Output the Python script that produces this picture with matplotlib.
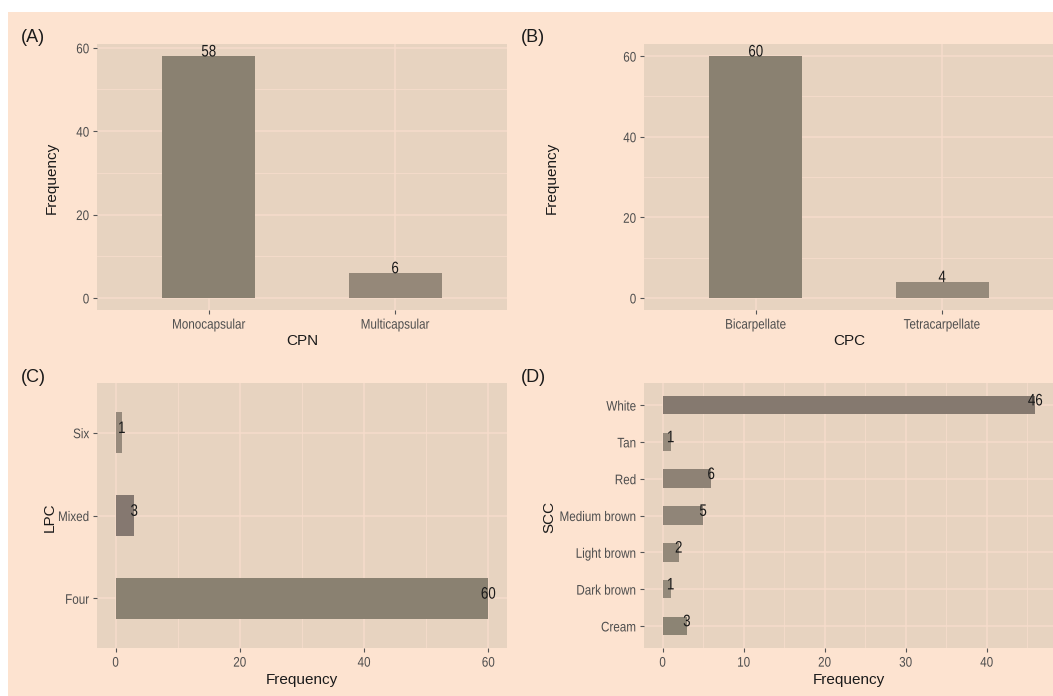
import numpy as np
import matplotlib
matplotlib.use('Agg')
from matplotlib import pyplot as plt
from matplotlib.patches import Rectangle
from matplotlib.patheffects import AbstractPathEffect
from matplotlib.transforms import Affine2D

'''Data read off the reference'''
cpn_cats = ['Monocapsular', 'Multicapsular']
cpn_vals = [58, 6]
cpn_cols = ['#8a8171', '#958879']

cpc_cats = ['Bicarpellate', 'Tetracarpellate']
cpc_vals = [60, 4]
cpc_cols = ['#8a8171', '#968a7b']

lpc_cats = ['Four', 'Mixed', 'Six']
lpc_vals = [60, 3, 1]
lpc_cols = ['#8a8171', '#857870', '#978a7c']

scc_cats = ['Cream', 'Dark brown', 'Light brown', 'Medium brown', 'Red', 'Tan', 'White']
scc_vals = [3, 1, 2, 5, 6, 1, 46]
scc_cols = ['#8c8474', '#948a7b', '#938879', '#908578', '#8e8275', '#968a7c', '#85796f']

W, H = 1053, 696
FIG_BG = '#fde3d0'
PANEL_BG = '#e7d3c0'
GRID = '#f6dccb'
TICK_C = '#555555'
FONT = ['Liberation Sans', 'DejaVu Sans']


class Squeeze(AbstractPathEffect):
    '''narrow the glyphs horizontally (the original uses a condensed face)'''

    def __init__(self, sx=0.84, anchor='center'):
        super().__init__()
        self.sx = sx
        self.anchor = anchor

    def draw_path(self, renderer, gc, tpath, affine, rgbFace=None):
        xs = tpath.vertices[:, 0]
        if len(xs) == 0:
            return
        if self.anchor == 'right':
            x0 = xs.max()
        elif self.anchor == 'left':
            x0 = xs.min()
        else:
            x0 = 0.5 * (xs.min() + xs.max())
        t = Affine2D().translate(-x0, 0).scale(self.sx, 1).translate(x0, 0) + affine
        renderer.draw_path(gc, tpath, t, rgbFace)


plt.rcParams['font.family'] = FONT

fig = plt.figure(figsize=(W / 100, H / 100), dpi=100)
fig.patch.set_facecolor('white')
fig.patches.append(Rectangle((8 / W, 0), 1, 1 - 12 / H, transform=fig.transFigure,
                             facecolor=FIG_BG, edgecolor='none', zorder=-10))


def px_axes(x0, y0, x1, y1):
    return fig.add_axes([x0 / W, 1 - y1 / H, (x1 - x0) / W, (y1 - y0) / H])


def style(ax):
    ax.set_facecolor(PANEL_BG)
    for s in ax.spines.values():
        s.set_visible(False)
    ax.tick_params(which='major', length=3, width=0.8, color=TICK_C, pad=2.5,
                   labelsize=10, labelcolor='#4d4d4d')
    ax.tick_params(which='minor', length=0)
    for lab in ax.get_xticklabels():
        lab.set_path_effects([Squeeze(0.84, 'center')])
    for lab in ax.get_yticklabels():
        lab.set_path_effects([Squeeze(0.84, 'right')])
    ax.set_axisbelow(True)


def value_label(ax, x, y, v):
    t = ax.annotate(str(v), (x, y), xytext=(0, 3), textcoords='offset points',
                    ha='center', va='center', fontsize=12, color='#1a1a1a')
    t.set_path_effects([Squeeze(0.8, 'center')])


def vbar(ax, cats, vals, cols, major, minor):
    pos = np.arange(1, len(cats) + 1)
    ax.bar(pos, vals, width=0.5, color=cols, edgecolor='none')
    top = max(vals) * 1.05
    ax.set_xlim(0.4, len(cats) + 0.6)
    ax.set_ylim(-0.05 * max(vals), top)
    ax.set_xticks(pos)
    ax.set_xticklabels(cats)
    ax.set_yticks(np.arange(0, top, major))
    ax.set_yticks(np.arange(minor, top, major), minor=True)
    ax.grid(which='major', color=GRID, lw=1.1)
    ax.grid(which='minor', axis='y', color=GRID, lw=0.6)
    for p, v in zip(pos, vals):
        value_label(ax, p, v, v)
    style(ax)


def hbar(ax, cats, vals, cols, major, minor):
    pos = np.arange(1, len(cats) + 1)
    ax.barh(pos, vals, height=0.5, color=cols, edgecolor='none')
    top = max(vals) * 1.05
    ax.set_ylim(0.4, len(cats) + 0.6)
    ax.set_xlim(-0.05 * max(vals), top)
    ax.set_yticks(pos)
    ax.set_yticklabels(cats)
    ax.set_xticks(np.arange(0, top, major))
    ax.set_xticks(np.arange(minor, top, major), minor=True)
    ax.grid(which='major', color=GRID, lw=1.1)
    ax.grid(which='minor', axis='x', color=GRID, lw=0.6)
    for p, v in zip(pos, vals):
        value_label(ax, v, p, v)
    style(ax)


axA = px_axes(97, 44, 507, 310)
vbar(axA, cpn_cats, cpn_vals, cpn_cols, 20, 10)
axB = px_axes(644, 44, 1054, 310)
vbar(axB, cpc_cats, cpc_vals, cpc_cols, 20, 10)
axC = px_axes(97, 383, 507, 648)
hbar(axC, lpc_cats, lpc_vals, lpc_cols, 20, 10)
axD = px_axes(644, 383, 1054, 648)
hbar(axD, scc_cats, scc_vals, scc_cols, 10, 5)


def ftext(x, y, s, **kw):
    fig.text(x / W, 1 - y / H, s, ha='center', va='center', color='#1a1a1a', **kw)


# axis titles
ftext(302, 341, 'CPN', fontsize=11)
ftext(849, 341, 'CPC', fontsize=11)
ftext(302, 680, 'Frequency', fontsize=11)
ftext(849, 680, 'Frequency', fontsize=11)
ftext(52, 178, 'Frequency', fontsize=11, rotation=90)
ftext(552, 178, 'Frequency', fontsize=11, rotation=90)
ftext(50, 517, 'LPC', fontsize=11, rotation=90)
ftext(549, 517, 'SCC', fontsize=11, rotation=90)

# panel tags
ftext(33, 38, '(A)', fontsize=13)
ftext(533, 38, '(B)', fontsize=13)
ftext(33, 377, '(C)', fontsize=13)
ftext(533, 377, '(D)', fontsize=13)

fig.savefig('out.png', dpi=100, facecolor=fig.get_facecolor())
